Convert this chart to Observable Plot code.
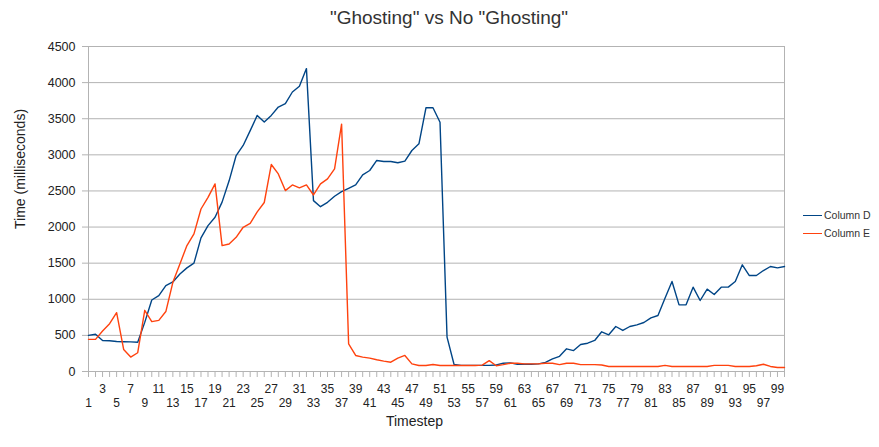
<!DOCTYPE html>
<html><head><meta charset="utf-8">
<script src="https://cdn.jsdelivr.net/npm/d3@7"></script>
<script src="https://cdn.jsdelivr.net/npm/@observablehq/plot@0.6"></script>
<style>
body{margin:0;background:#fff;font-family:"Liberation Sans",Arial,sans-serif;}
#wrap{position:relative;width:879px;height:447px;overflow:hidden;}
#chart{position:absolute;left:0;top:0;}
#title{position:absolute;left:0;width:898px;top:7px;text-align:center;font-size:19px;color:#333;line-height:22px;}
#legend{position:absolute;left:803px;top:206px;font-size:10.5px;color:#333;}
.li{display:flex;align-items:center;height:18px;}
.sw{width:19px;height:0;border-top:1.5px solid;margin-right:2px;}
</style></head>
<body>
<div id="wrap">
<div id="chart"></div>
<div id="title">"Ghosting" vs No "Ghosting"</div>
<div id="legend"></div>
</div>
<script>
const timesteps = d3.range(1, 101);
const columnD = [500,515,430,425,415,412,410,405,680,990,
  1050,1190,1240,1350,1435,1500,1850,2020,2135,2345,
  2640,2990,3130,3335,3546,3454,3546,3662,3708,3870,
  3950,4194,2366,2282,2343,2426,2491,2537,2584,2723,
  2783,2922,2908,2908,2890,2913,3060,3152,3651,3651,
  3452,475,97,85,85,85,85,85,90,115,
  120,100,100,100,105,125,175,210,314,290,
  374,392,430,550,508,623,568,623,646,678,
  743,775,1015,1246,923,923,1168,983,1140,1066,
  1168,1168,1246,1477,1329,1329,1398,1454,1435,1454];
const columnE = [445,445,560,662,815,305,200,260,847,690,
  708,830,1235,1490,1743,1905,2250,2412,2597,1743,
  1766,1858,1997,2052,2210,2340,2866,2736,2505,2583,
  2542,2583,2444,2597,2667,2806,3425,383,222,199,
  185,162,143,129,185,222,106,83,83,97,
  83,83,83,83,83,83,88,150,80,95,
  115,115,105,105,105,115,115,95,115,115,
  95,95,95,90,70,70,70,70,70,70,
  70,70,85,70,70,70,70,70,70,85,
  85,85,70,70,70,80,100,70,55,55];
const seriesNames = ["Column D", "Column E"];
const seriesColors = ["#004586", "#ff420e"];
const yTicks = [0,500,1000,1500,2000,2500,3000,3500,4000,4500];
const xLabelsUpper = d3.range(3, 101, 4);
const xLabelsLower = d3.range(1, 101, 4);

const seriesValues = [columnD, columnE];
const data = seriesNames.flatMap((name, k) =>
  seriesValues[k].map((v, i) => ({t: timesteps[i], v, s: name})));

const grid = "#b3b3b3";
const chart = Plot.plot({
  width: 879, height: 447,
  marginLeft: 88, marginRight: 95, marginTop: 46, marginBottom: 76,
  style: {fontFamily: "Liberation Sans, Arial, sans-serif", fontSize: "12px", color: "#222", background: "#fff"},
  x: {type: "linear", domain: [1, 100]},
  y: {domain: [0, 4500]},
  color: {domain: seriesNames, range: seriesColors},
  marks: [
    Plot.gridY(yTicks, {stroke: grid, strokeOpacity: 1}),
    Plot.axisY({ticks: yTicks, tickSize: 6, tickPadding: 7, stroke: grid, strokeOpacity: 1, label: null, tickFormat: d => String(d), fontSize: 12.5}),
    Plot.axisX({ticks: timesteps, tickSize: 6, tickFormat: () => "", stroke: grid, strokeOpacity: 1, label: null}),
    Plot.axisX({ticks: xLabelsUpper, tickSize: 0, tickPadding: 12.8, tickFormat: d => String(d), label: null, fontSize: 12}),
    Plot.axisX({ticks: xLabelsLower, tickSize: 0, tickPadding: 27.2, tickFormat: d => String(d), label: null, fontSize: 12}),
    Plot.ruleX([1, 100], {stroke: grid}),
    Plot.ruleY([0], {stroke: grid}),
    Plot.line(data, {x: "t", y: "v", z: "s", stroke: "s", strokeWidth: 1.4}),
    Plot.text(["Timestep"], {frameAnchor: "bottom", dx: -22, dy: 54, fontSize: 14, fill: "#222"}),
    Plot.text(["Time (milliseconds)"], {frameAnchor: "left", rotate: -90, dx: -68, dy: 20, fontSize: 14, fill: "#222"})
  ]
});
document.getElementById("chart").appendChild(chart);

const legend = document.getElementById("legend");
seriesNames.forEach((name, k) => {
  const row = document.createElement("div");
  row.className = "li";
  const sw = document.createElement("span");
  sw.className = "sw";
  sw.style.borderTopColor = seriesColors[k];
  const tx = document.createElement("span");
  tx.textContent = name;
  row.appendChild(sw); row.appendChild(tx);
  legend.appendChild(row);
});
</script>
</body></html>
